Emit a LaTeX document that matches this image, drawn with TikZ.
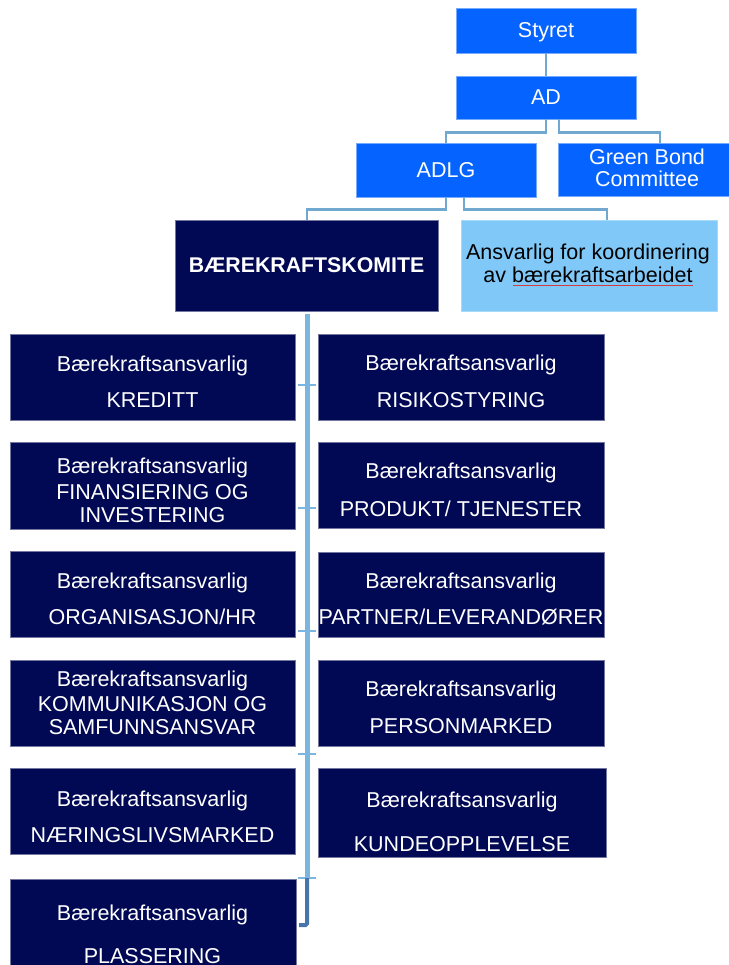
\documentclass[tikz,border=0pt]{standalone}
\usepackage{fontspec}
\setmainfont{Liberation Sans}
\usetikzlibrary{calc}
\definecolor{brightblue}{RGB}{5,100,255}
\definecolor{navybox}{RGB}{2,9,84}
\definecolor{lightbox}{RGB}{128,200,248}
\definecolor{connblue}{RGB}{122,182,224}
\definecolor{conntop}{RGB}{112,168,208}
\definecolor{hookblue}{RGB}{72,116,172}
\definecolor{spellred}{RGB}{210,60,60}
\newcommand\ttl[4]{\node[txt] (#1) at (#2,#3) {#4};}
\begin{document}
\begin{tikzpicture}[x=1pt,y=-1pt,
  boxbase/.style={rectangle, inner sep=0pt, line width=0.6pt},
  topbox/.style={boxbase, fill=brightblue, draw=brightblue!55!white},
  darkbox/.style={boxbase, fill=navybox, draw=navybox!55!white},
  lightbx/.style={boxbase, fill=lightbox, draw=lightbox!70!white},
  txt/.style={inner sep=0pt, anchor=base, text=white, font=\fontsize{21.5}{25}\selectfont},
  blk/.style={txt, text=black},
  conn/.style={draw=conntop, line width=2.4pt},
  trunk/.style={draw=connblue, line width=5pt},
  tick/.style={draw=connblue, line width=2.4pt},
  hook/.style={draw=hookblue, line width=4pt, rounded corners=1.5pt}]
\useasboundingbox (0,0) rectangle (728,965);

% ---- top levels
\node[topbox, minimum width=180pt, minimum height=45pt] (styret) at (546,30.5) {};
\ttl{styret-t}{546}{37.5}{Styret}
\node[topbox, minimum width=180pt, minimum height=43pt] (ad) at (546,97.5) {};
\ttl{ad-t}{546}{104.5}{AD}
\node[topbox, minimum width=180pt, minimum height=54pt] (adlg) at (446,170) {};
\ttl{adlg-t}{446}{177.5}{ADLG}
\node[topbox, minimum width=180pt, minimum height=53pt] (gbc) at (648,169.5) {};
\ttl{gbc-t1}{647}{165}{Green Bond}
\ttl{gbc-t2}{647}{187}{Committee}
\node[darkbox, minimum width=263pt, minimum height=91pt] (komite) at (306.5,265.5) {};
\node[txt, font=\fontsize{21.3}{25}\selectfont\bfseries] (komite-t) at (306.5,272.5) {BÆREKRAFTSKOMITE};
\node[lightbx, minimum width=256pt, minimum height=91pt] (ansv) at (589,265.5) {};
\node[blk] (ansv-t1) at (588,260) {Ansvarlig for koordinering};
\node[blk] (ansv-t2) at (588,283) {av bærekraftsarbeidet};
\draw[spellred, line width=0.7pt] ($(ansv-t2.base west)+(30,2.5)$) -- ($(ansv-t2.base east)+(0,2.5)$);

% ---- left column
\node[darkbox, minimum width=285pt, minimum height=86pt] (l1) at (152.5,377) {};
\ttl{l1-a}{152.5}{371}{Bærekraftsansvarlig}
\ttl{l1-b}{152.5}{407}{KREDITT}
\node[darkbox, minimum width=285pt, minimum height=87pt] (l2) at (152.5,485.5) {};
\ttl{l2-a}{152.5}{473}{Bærekraftsansvarlig}
\ttl{l2-b}{152.5}{499}{FINANSIERING OG}
\ttl{l2-c}{152.5}{522}{INVESTERING}
\node[darkbox, minimum width=285pt, minimum height=86pt] (l3) at (152.5,594) {};
\ttl{l3-a}{152.5}{588}{Bærekraftsansvarlig}
\ttl{l3-b}{152.5}{624}{ORGANISASJON/HR}
\node[darkbox, minimum width=285pt, minimum height=86pt] (l4) at (152.5,703) {};
\ttl{l4-a}{152.5}{686}{Bærekraftsansvarlig}
\ttl{l4-b}{152.5}{711}{KOMMUNIKASJON OG}
\ttl{l4-c}{152.5}{734}{SAMFUNNSANSVAR}
\node[darkbox, minimum width=285pt, minimum height=86pt] (l5) at (152.5,811) {};
\ttl{l5-a}{152.5}{806}{Bærekraftsansvarlig}
\ttl{l5-b}{152.5}{842}{NÆRINGSLIVSMARKED}
\node[darkbox, minimum width=286pt, minimum height=96pt] (l6) at (153,927) {};
\ttl{l6-a}{152.5}{920}{Bærekraftsansvarlig}
\ttl{l6-b}{152.5}{963}{PLASSERING}

% ---- right column
\node[darkbox, minimum width=286pt, minimum height=86pt] (r1) at (461,377) {};
\ttl{r1-a}{461}{370}{Bærekraftsansvarlig}
\ttl{r1-b}{461}{407}{RISIKOSTYRING}
\node[darkbox, minimum width=286pt, minimum height=86pt] (r2) at (461,485) {};
\ttl{r2-a}{461}{478}{Bærekraftsansvarlig}
\ttl{r2-b}{461}{516}{PRODUKT/ TJENESTER}
\node[darkbox, minimum width=286pt, minimum height=85pt] (r3) at (461,594.5) {};
\ttl{r3-a}{461}{588}{Bærekraftsansvarlig}
\ttl{r3-b}{461}{624}{PARTNER/LEVERANDØRER}
\node[darkbox, minimum width=286pt, minimum height=86pt] (r4) at (461,703) {};
\ttl{r4-a}{461}{696}{Bærekraftsansvarlig}
\ttl{r4-b}{461}{733}{PERSONMARKED}
\node[darkbox, minimum width=288pt, minimum height=89pt] (r5) at (462,812.5) {};
\ttl{r5-a}{462}{807}{Bærekraftsansvarlig}
\ttl{r5-b}{462}{851}{KUNDEOPPLEVELSE}

% ---- connectors at the top
\draw[conn] (styret.south) -- (ad.north);
\draw[conn] (ad.south) |- ($(adlg.north)+(0,-10)$) -- (adlg.north);
\draw[conn] ($(ad.south)+(13,0)$) |- ($(gbc.north)+(12,-10)$) -- ($(gbc.north)+(12,0)$);
\draw[conn] (adlg.south) |- ($(komite.north)+(0.5,-10)$) -- ($(komite.north)+(0.5,0)$);
\draw[conn] ($(adlg.south)+(18,0)$) |- ($(ansv.north)+(18,-10)$) -- ($(ansv.north)+(18,0)$);

% ---- trunk
\coordinate (tstart) at ($(komite.south)+(0.5,3)$);
\coordinate (tend) at (307,878);
\coordinate (hookend) at (299,925);
\draw[trunk] (tstart) -- (tend);
\foreach \yy/\nm in {385/t1,508/t2,631/t3,754/t4,878/t5}{
  \coordinate (\nm-w) at (298,\yy);
  \coordinate (\nm-e) at (316,\yy);
  \draw[tick] (\nm-w) -- (\nm-e);
}
\draw[hook] (tend) |- (hookend);
\end{tikzpicture}
\end{document}
